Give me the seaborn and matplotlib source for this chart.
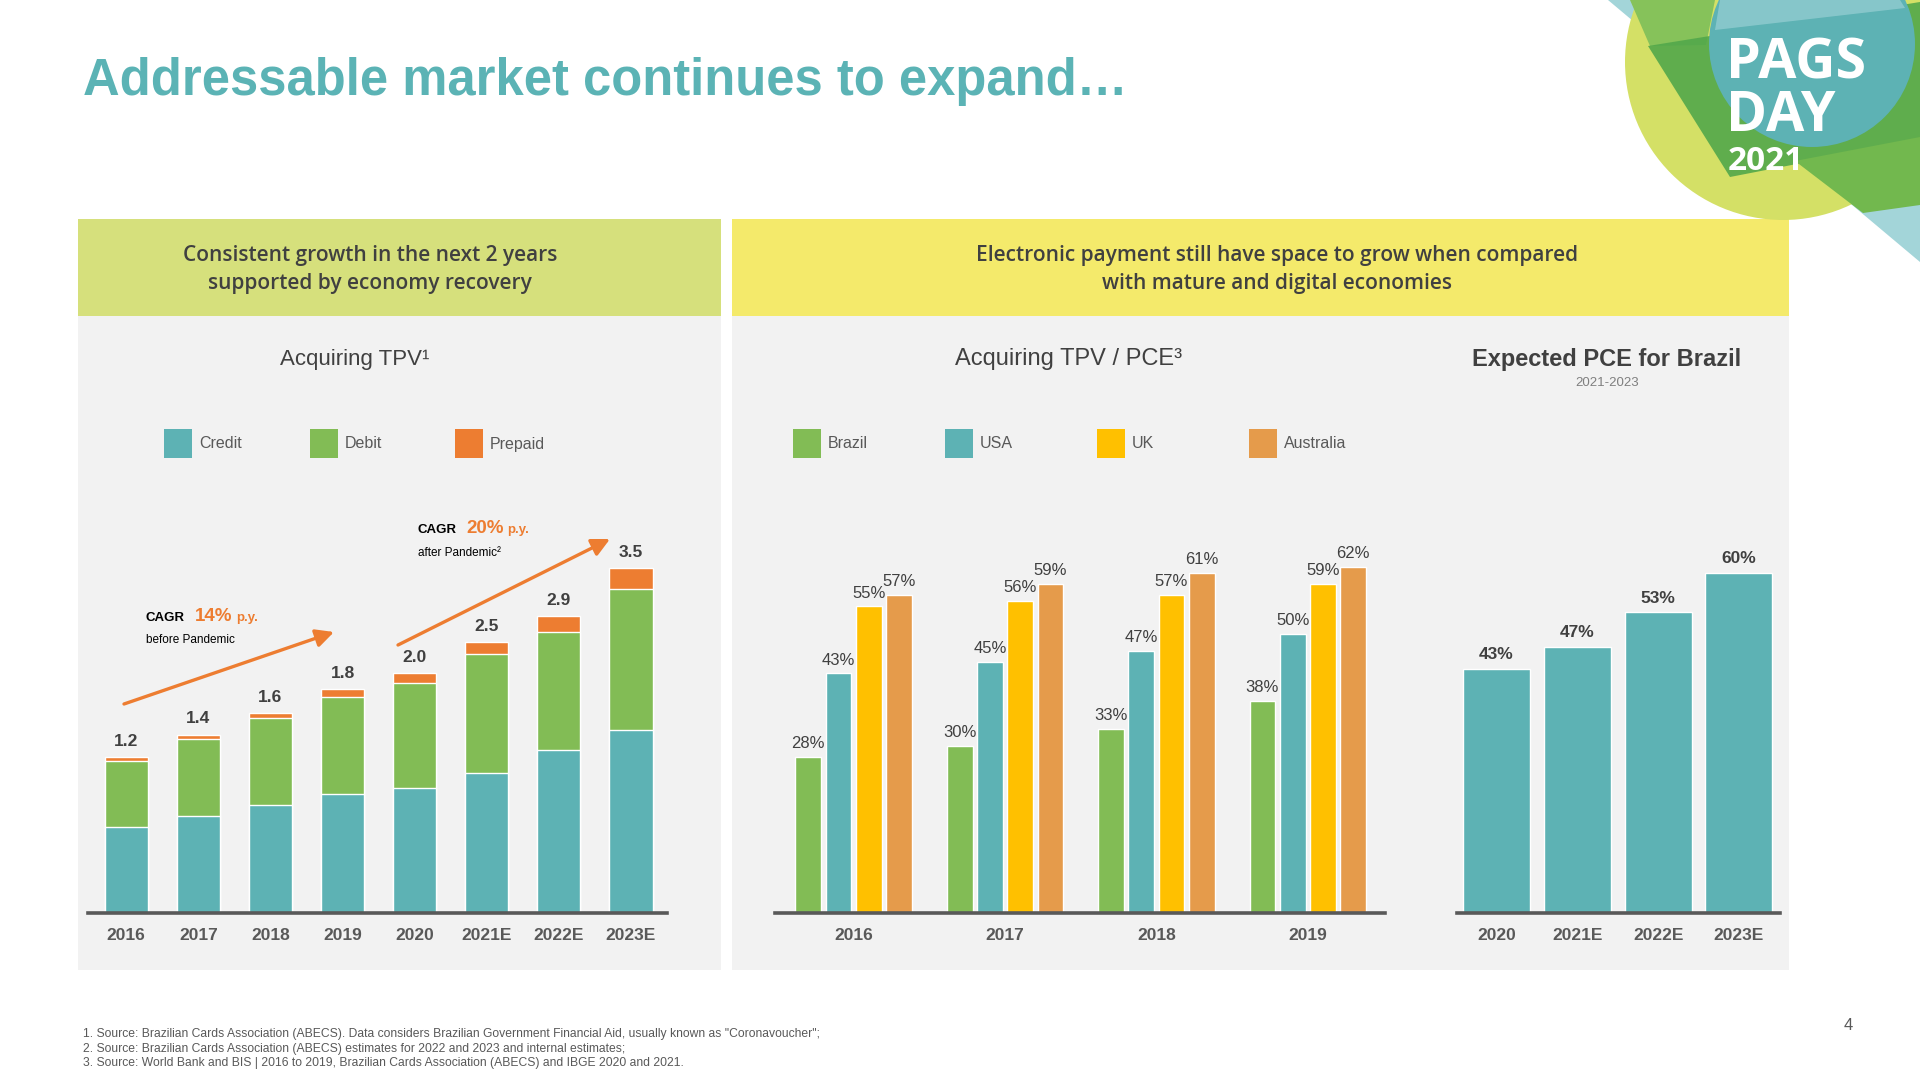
import numpy as np
import pandas as pd
import matplotlib
matplotlib.use("Agg")
import matplotlib.pyplot as plt
import seaborn as sns
from matplotlib.patches import Rectangle, Ellipse, Polygon

# ---------------- data ----------------
tpv_years = ["2016", "2017", "2018", "2019", "2020", "2021E", "2022E", "2023E"]
tpv_credit = [0.87, 0.98, 1.10, 1.21, 1.27, 1.42, 1.65, 1.86]
tpv_debit = [0.67, 0.78, 0.88, 0.98, 1.06, 1.21, 1.20, 1.43]
tpv_prepaid = [0.04, 0.05, 0.05, 0.08, 0.10, 0.12, 0.16, 0.21]
tpv_labels = ["1.2", "1.4", "1.6", "1.8", "2.0", "2.5", "2.9", "3.5"]
tpv_series = ["Credit", "Debit", "Prepaid"]

pce_years = ["2016", "2017", "2018", "2019"]
countries = ["Brazil", "USA", "UK", "Australia"]
pce_brazil = [28, 30, 33, 38]
pce_usa = [43, 45, 47, 50]
pce_uk = [55, 56, 57, 59]
pce_australia = [57, 59, 61, 62]

exp_years = ["2020", "2021E", "2022E", "2023E"]
exp_pce = [43, 47, 53, 60]

# ---------------- style ----------------
TEAL = "#5DB2B4"
GREEN = "#82BC55"
ORANGE = "#ED7D31"
YELLOW = "#FFC000"
LORANGE = "#E59B4B"
DARK = "#404040"
GRAY = "#595959"

sns.set_theme(style="white")
plt.rcParams['font.family'] = ['Liberation Sans', 'DejaVu Sans']

W, H = 1920, 1080
fig = plt.figure(figsize=(19.2, 10.8), dpi=100)
fig.patch.set_facecolor("white")


def fx(x):
    return x / W


def fy(y):
    return 1 - y / H


def rect(x0, y0, x1, y1, color, z=-5):
    fig.patches.append(Rectangle((fx(x0), fy(y1)), (x1 - x0) / W, (y1 - y0) / H,
                                 transform=fig.transFigure, facecolor=color,
                                 edgecolor="none", zorder=z))


# panels
rect(78, 219, 721, 970, "#F2F2F2")
rect(78, 219, 721, 316, "#D6E07C")
rect(732, 219, 1789, 970, "#F2F2F2")
rect(732, 219, 1789, 316, "#F4EA6B")

# ---------------- logo ----------------
def poly(pts, color, alpha=1.0, z=-4):
    fig.patches.append(Polygon([(fx(a), fy(b)) for a, b in pts], closed=True,
                               transform=fig.transFigure, facecolor=color,
                               edgecolor="none", alpha=alpha, zorder=z))


def circ(cx, cy, r, color, alpha=1.0, z=-4):
    fig.patches.append(Ellipse((fx(cx), fy(cy)), 2 * r / W, 2 * r / H,
                               transform=fig.transFigure, facecolor=color,
                               edgecolor="none", alpha=alpha, zorder=z))


poly([(1608, 0), (1920, 0), (1920, 262)], "#A3D5D9", z=-4.6)
circ(1783, 62, 158, "#D4E066", z=-4.5)
poly([(1630, 0), (1715, 0), (1706, 45), (1650, 46)], "#86C25A", z=-4.45)
poly([(1648, 46), (1920, 2), (1920, 140), (1730, 177)], "#52A84B", alpha=0.9, z=-4.4)
circ(1812, 44, 103, "#5DB2B4", z=-4.3)
poly([(1720, 0), (1900, 0), (1905, 8), (1715, 30)], "#A3D5D9", alpha=0.6, z=-4.25)
poly([(1795, 161), (1920, 137), (1920, 205), (1863, 213)], "#72B84E", z=-4.2)

fig.text(fx(1726), fy(131), "PAGS\nDAY", color="white", fontsize=40, fontweight="bold",
         family=["Open Sans", "DejaVu Sans"], va="baseline", ha="left", linespacing=0.95)
fig.text(fx(1728), fy(170), "2021", color="white", fontsize=24, fontweight="bold",
         family=["Open Sans", "DejaVu Sans"], va="baseline", ha="left")

# ---------------- titles ----------------
fig.text(fx(83), fy(95), "Addressable market continues to expand…", color="#5BB3B5",
         fontsize=36.5, fontweight="bold", va="baseline", ha="left")

hdr = dict(fontsize=15, color=DARK, ha="center", va="center", fontweight="semibold",
           family=["Open Sans", "DejaVu Sans"])
fig.text(fx(370), fy(255), "Consistent growth in the next 2 years", **hdr)
fig.text(fx(370), fy(284), "supported by economy recovery", **hdr)
fig.text(fx(1277), fy(255), "Electronic payment still have space to grow when compared", **hdr)
fig.text(fx(1277), fy(284), "with mature and digital economies", **hdr)

fig.text(fx(355), fy(359), "Acquiring TPV¹", fontsize=16, color=DARK, ha="center", va="center")
fig.text(fx(1069), fy(359), "Acquiring TPV / PCE³", fontsize=17, color=DARK, ha="center", va="center")
fig.text(fx(1607), fy(359), "Expected PCE for Brazil", fontsize=17, color=DARK, ha="center",
         va="center", fontweight="bold")
fig.text(fx(1607), fy(383), "2021-2023", fontsize=9.5, color="#7F7F7F", ha="center", va="center")


# legends (swatches)
def legend_row(lefts, names, colors):
    for lx, nm, col in zip(lefts, names, colors):
        rect(lx, 429, lx + 28, 458, col, z=-3)
        fig.text(fx(lx + 35), fy(444), nm, fontsize=11.5, color=GRAY, ha="left", va="center")


legend_row([164, 310, 455], tpv_series, [TEAL, GREEN, ORANGE])
legend_row([793, 945, 1097, 1249], countries, [GREEN, TEAL, YELLOW, LORANGE])


def style_axis(ax):
    ax.patch.set_visible(False)
    sns.despine(ax=ax, left=True)
    ax.spines["bottom"].set_color(GRAY)
    ax.spines["bottom"].set_linewidth(2.6)
    ax.set_yticks([])
    ax.set_xlabel("")
    ax.set_ylabel("")
    ax.tick_params(axis="x", length=0, pad=11, labelsize=12.5, labelcolor=GRAY)
    for t in ax.get_xticklabels():
        t.set_fontweight("bold")


# ---------------- left chart: stacked TPV ----------------
AX_BOTTOM = 913
AX_H = 433
axL = fig.add_axes([fx(88), (H - AX_BOTTOM) / H, 579 / W, AX_H / H])
df_tpv = pd.DataFrame({"year": tpv_years, "credit": tpv_credit,
                       "debit": tpv_debit, "prepaid": tpv_prepaid})
df_tpv["credit_debit"] = df_tpv["credit"] + df_tpv["debit"]
df_tpv["total"] = df_tpv["credit_debit"] + df_tpv["prepaid"]
sns.barplot(data=df_tpv, x="year", y="total", color=ORANGE, width=0.6,
            saturation=1, errorbar=None, ax=axL)
sns.barplot(data=df_tpv, x="year", y="credit_debit", color=GREEN, width=0.6,
            saturation=1, errorbar=None, ax=axL)
sns.barplot(data=df_tpv, x="year", y="credit", color=TEAL, width=0.6,
            saturation=1, errorbar=None, ax=axL)
axL.bar_label(axL.containers[0], labels=tpv_labels, padding=6, fontsize=12.5,
              fontweight="bold", color=DARK)
axL.set_xlim(-0.53, 7.5)
axL.set_ylim(0, AX_H / 98.6)
style_axis(axL)

# CAGR annotations
arrow = dict(arrowstyle="-|>,head_length=0.9,head_width=0.45", color=ORANGE, lw=2.4,
             shrinkA=0, shrinkB=0)
axL.annotate("", xy=(334, H - 632), xytext=(124, H - 704), xycoords="figure pixels",
             textcoords="figure pixels", arrowprops=arrow)
axL.annotate("", xy=(610, H - 539), xytext=(398, H - 645), xycoords="figure pixels",
             textcoords="figure pixels", arrowprops=arrow)

fig.text(fx(146), fy(621), "CAGR", fontsize=9.5, fontweight="bold", color="black", va="baseline")
fig.text(fx(195), fy(621), "14%", fontsize=13.5, fontweight="bold", color=ORANGE, va="baseline")
fig.text(fx(236), fy(621), "p.y.", fontsize=9.5, fontweight="bold", color=ORANGE, va="baseline")
fig.text(fx(146), fy(643), "before Pandemic", fontsize=8.5, color="black", va="baseline")

fig.text(fx(418), fy(533), "CAGR", fontsize=9.5, fontweight="bold", color="black", va="baseline")
fig.text(fx(466), fy(533), "20%", fontsize=13.5, fontweight="bold", color=ORANGE, va="baseline")
fig.text(fx(507), fy(533), "p.y.", fontsize=9.5, fontweight="bold", color=ORANGE, va="baseline")
fig.text(fx(418), fy(556), "after Pandemic²", fontsize=8.5, color="black", va="baseline")

# ---------------- middle chart: TPV / PCE ----------------
axM = fig.add_axes([fx(775), (H - AX_BOTTOM) / H, 610 / W, AX_H / H])
df_pce = pd.DataFrame({"year": pce_years, "Brazil": pce_brazil, "USA": pce_usa,
                       "UK": pce_uk, "Australia": pce_australia})
df_long = df_pce.melt(id_vars="year", var_name="country", value_name="value")
sns.barplot(data=df_long, x="year", y="value", hue="country", hue_order=countries,
            palette=dict(zip(countries, [GREEN, TEAL, YELLOW, LORANGE])),
            width=0.8, gap=0.15, saturation=1, errorbar=None, legend=False, ax=axM)
for cont in axM.containers:
    axM.bar_label(cont, fmt="{:.0f}%", padding=4, fontsize=12, color=DARK)
axM.set_xlim(-0.52, 3.51)
axM.set_ylim(0, AX_H / 5.58)
style_axis(axM)

# ---------------- right chart: expected PCE ----------------
axR = fig.add_axes([fx(1457), (H - AX_BOTTOM) / H, 323 / W, AX_H / H])
df_exp = pd.DataFrame({"year": exp_years, "pce": exp_pce})
sns.barplot(data=df_exp, x="year", y="pce", color=TEAL, width=0.83, saturation=1,
            errorbar=None, ax=axR)
axR.bar_label(axR.containers[0], fmt="{:.0f}%", padding=5, fontsize=12.5,
              fontweight="bold", color=DARK)
axR.set_xlim(-0.49, 3.51)
axR.set_ylim(0, AX_H / 5.67)
style_axis(axR)

# ---------------- footnotes ----------------
notes = [
    "1. Source: Brazilian Cards Association (ABECS). Data considers Brazilian Government Financial Aid, usually known as \"Coronavoucher\";",
    "2. Source: Brazilian Cards Association (ABECS) estimates for 2022 and 2023 and internal estimates;",
    "3. Source: World Bank and BIS | 2016 to 2019, Brazilian Cards Association (ABECS) and IBGE 2020 and 2021.",
]
for i, n in enumerate(notes):
    fig.text(fx(83), fy(1034 + i * 14.7), n, fontsize=8.7, color=GRAY, ha="left", va="center")
fig.text(fx(1848), fy(1025), "4", fontsize=12, color=GRAY, ha="center", va="center")

fig.savefig("out.png", dpi=100, facecolor="white")
